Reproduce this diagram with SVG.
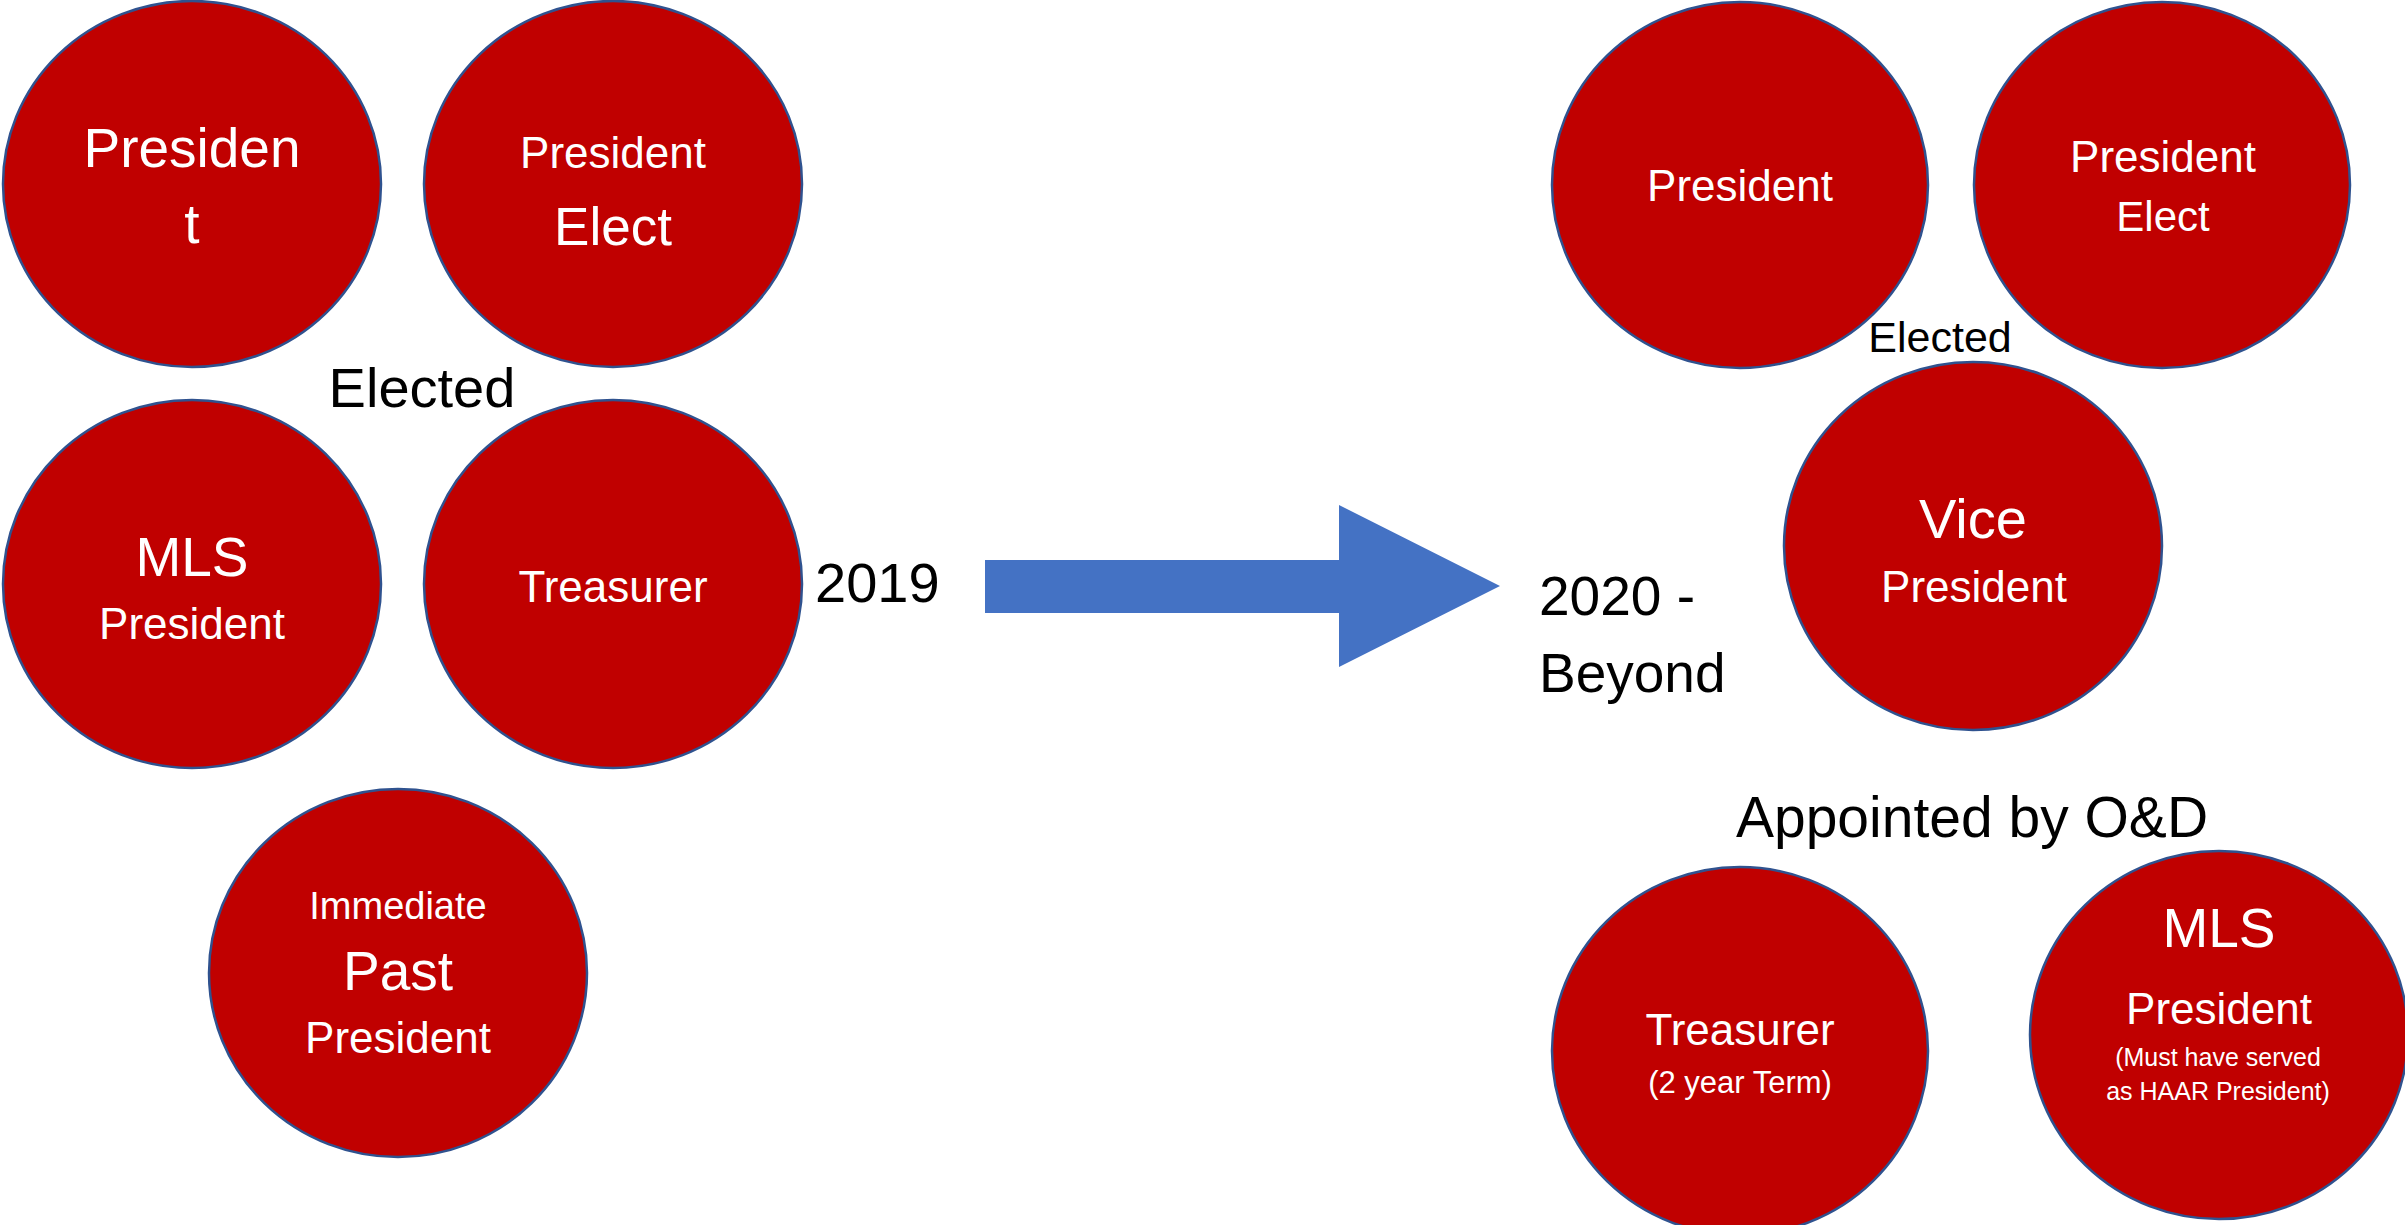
<svg xmlns="http://www.w3.org/2000/svg" width="2405" height="1225" viewBox="0 0 2405 1225">
<style>
.n{fill:#C00000;stroke:#2F528F;stroke-width:2.5}
.w{fill:#FFFFFF;font-family:"Liberation Sans",Arial,sans-serif;text-anchor:middle}
.b{fill:#000000;font-family:"Liberation Sans",Arial,sans-serif}
</style>
<rect width="2405" height="1225" fill="#FFFFFF"/>
<g id="connectors">
<path d="M985,560 H1339 V505 L1500,586 L1339,667 V613 H985 Z" fill="#4472C4"/>
</g>
<g id="n-president-2019">
<ellipse class="n" cx="192" cy="184" rx="189" ry="183"/>
<text class="w" x="192" y="167" font-size="55">Presiden</text>
<text class="w" x="192" y="243" font-size="55">t</text>
</g>
<g id="n-president-elect-2019">
<ellipse class="n" cx="613" cy="184" rx="189" ry="183"/>
<text class="w" x="613" y="168" font-size="44">President</text>
<text class="w" x="613" y="245" font-size="53">Elect</text>
</g>
<g id="n-mls-2019">
<ellipse class="n" cx="192" cy="584" rx="189" ry="184"/>
<text class="w" x="192" y="576" font-size="55">MLS</text>
<text class="w" x="192" y="639" font-size="44">President</text>
</g>
<g id="n-treasurer-2019">
<ellipse class="n" cx="613" cy="584" rx="189" ry="184"/>
<text class="w" x="613" y="602" font-size="44">Treasurer</text>
</g>
<g id="n-past-president">
<ellipse class="n" cx="398" cy="973" rx="189" ry="184"/>
<text class="w" x="398" y="919" font-size="38">Immediate</text>
<text class="w" x="398" y="990" font-size="55">Past</text>
<text class="w" x="398" y="1053" font-size="44">President</text>
</g>
<g id="labels">
<text class="b" x="422" y="407" font-size="56" text-anchor="middle">Elected</text>
<text class="b" x="815" y="602" font-size="56">2019</text>
<text class="b" x="1539" y="615" font-size="55">2020 -</text>
<text class="b" x="1539" y="692" font-size="55">Beyond</text>
<text class="b" x="1940" y="352" font-size="43" text-anchor="middle">Elected</text>
<text class="b" x="1972" y="837" font-size="57" text-anchor="middle">Appointed by O&amp;D</text>
</g>
<g id="n-president-2020">
<ellipse class="n" cx="1740" cy="185" rx="188" ry="183"/>
<text class="w" x="1740" y="201" font-size="44">President</text>
</g>
<g id="n-president-elect-2020">
<ellipse class="n" cx="2162" cy="185" rx="188" ry="183"/>
<text class="w" x="2163" y="172" font-size="44">President</text>
<text class="w" x="2163" y="231" font-size="42">Elect</text>
</g>
<g id="n-vice-president">
<ellipse class="n" cx="1973" cy="546" rx="189" ry="184"/>
<text class="w" x="1973" y="538" font-size="56">Vice</text>
<text class="w" x="1974" y="602" font-size="44">President</text>
</g>
<g id="n-treasurer-2020">
<ellipse class="n" cx="1740" cy="1051" rx="188" ry="184"/>
<text class="w" x="1740" y="1045" font-size="44">Treasurer</text>
<text class="w" x="1740" y="1093" font-size="31">(2 year Term)</text>
</g>
<g id="n-mls-2020">
<ellipse class="n" cx="2219" cy="1035" rx="189" ry="184"/>
<text class="w" x="2219" y="947" font-size="55">MLS</text>
<text class="w" x="2219" y="1024" font-size="44">President</text>
<text class="w" x="2218" y="1066" font-size="25">(Must have served</text>
<text class="w" x="2218" y="1100" font-size="25">as HAAR President)</text>
</g>
</svg>
